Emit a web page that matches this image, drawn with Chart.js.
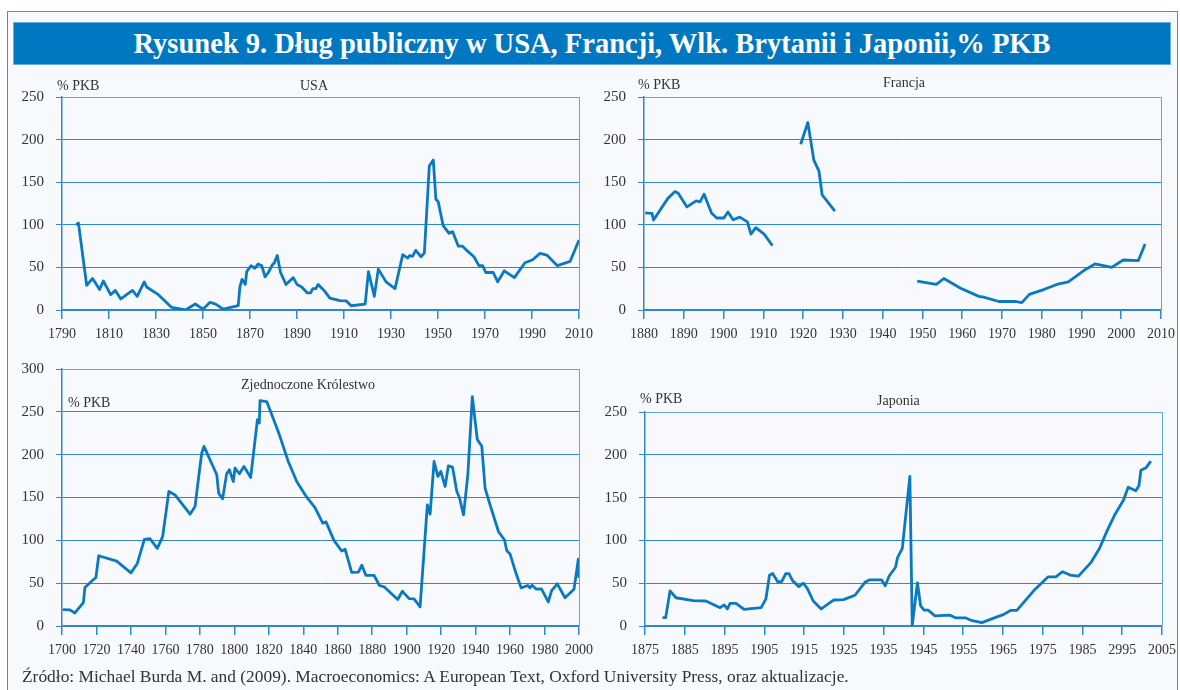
<!DOCTYPE html>
<html>
<head>
<meta charset="utf-8">
<script src="https://cdn.jsdelivr.net/npm/chart.js@4.4.1/dist/chart.umd.min.js"></script>
<style>
  body { margin: 0; width: 1180px; height: 690px; background: #fff; overflow: hidden; position: relative;
         font-family: "Liberation Serif", "Times New Roman", serif; color: #333; }
  #frame { position: absolute; left: 7px; top: 11px; width: 1171px; height: 700px; border: 1px solid #3f93d2;
           background: #f7f9fd; box-sizing: border-box; }
  #head { position: absolute; left: 13px; top: 22px; width: 1158px; height: 43px; background: #0077c1;
          border: 1px solid #6aaee0; box-sizing: border-box; color: #fff; font-weight: bold; font-size: 28.5px;
          text-align: center; line-height: 41px; }
  canvas { position: absolute; left: 0; top: 0; }
  .lbl { position: absolute; font-size: 14px; line-height: 14px; white-space: nowrap; }
  #src { position: absolute; left: 22px; top: 668px; font-size: 17.4px; line-height: 17px; white-space: nowrap; }
</style>
</head>
<body>
<div id="frame"></div>
<div id="head">Rysunek 9. Dług publiczny w USA, Francji, Wlk. Brytanii i Japonii,% PKB</div>

<canvas id="usa" width="1180" height="690"></canvas>
<canvas id="fra" width="1180" height="690"></canvas>
<canvas id="uk" width="1180" height="690"></canvas>
<canvas id="jap" width="1180" height="690"></canvas>

<div class="lbl" style="left:57px;top:79px">% PKB</div>
<div class="lbl" style="left:300px;top:79px">USA</div>
<div class="lbl" style="left:638px;top:78px">% PKB</div>
<div class="lbl" style="left:883px;top:76px">Francja</div>
<div class="lbl" style="left:241px;top:378px">Zjednoczone Królestwo</div>
<div class="lbl" style="left:68px;top:396px">% PKB</div>
<div class="lbl" style="left:640px;top:392px">% PKB</div>
<div class="lbl" style="left:877px;top:394px">Japonia</div>

<div id="src">Źródło: Michael Burda M. and (2009). Macroeconomics: A European Text, Oxford University Press, oraz aktualizacje.</div>

<script>
// ===== DATA =====

const USA_YEARS = [1796, 1797, 1800.5, 1803, 1806, 1807.6, 1810.7, 1812.7, 1815, 1820, 1822, 1825, 1826, 1831,
  1836.7, 1842.6, 1846.7, 1850, 1853, 1855.4, 1858.6, 1865, 1865.7, 1866.6, 1868, 1868.6, 1870.4, 1872, 1873.5,
  1875, 1876.4, 1877.8, 1879.5, 1880.3, 1881.6, 1883, 1885.3, 1888.4, 1890, 1892, 1894.4, 1895.8, 1896.7, 1898,
  1899, 1901.5, 1904, 1908.3, 1911, 1913, 1919, 1920.4, 1922.9, 1924.6, 1927.9, 1931.7, 1935, 1937.1, 1938,
  1939.2, 1940.5, 1942.8, 1944.2, 1946.3, 1947, 1948, 1949.1, 1950.1, 1952.2, 1954.7, 1956.2, 1958.6, 1960.3,
  1962.2, 1965.3, 1967.4, 1969, 1970.3, 1973.5, 1975.4, 1978.2, 1982.5, 1987, 1990.3, 1993.4, 1996.3, 2000.8,
  2006.2, 2010];
const USA_DEBT = [100, 102, 29, 37, 24, 34, 18, 23, 13, 23, 16, 33, 27, 18,
  3, 0, 7, 1, 9, 7, 1, 5, 27, 36, 30, 45, 52, 49, 54,
  52, 39, 44, 53, 55, 64, 44, 30, 38, 30, 27, 20, 20, 25, 25,
  30, 23, 14, 11, 10.6, 5, 7, 45, 16, 48, 33, 25, 65, 61, 64,
  63, 70, 62.5, 67, 169, 172, 176, 130, 127, 99, 90, 92, 75, 75,
  70, 62.5, 52, 52, 44, 44, 33, 46, 38, 55.5, 59, 66.5, 64.5, 52,
  57, 82];

const FRA_YEARS = [1880.3, 1882, 1882.4, 1886, 1887.8, 1888.6, 1890.8, 1893.1, 1894.1, 1895.1, 1897, 1898.3,
  1900.1, 1901.1, 1902.4, 1904.1, 1906, 1906.9, 1908.1, 1910.2, 1912.3, 1916,
  1919.4, 1921.2, 1922.7, 1924, 1924.8, 1928, 1938,
  1948.7, 1953.5, 1955.4, 1959.6, 1964.2, 1965.4, 1969.2, 1973.3, 1975, 1976.9, 1980.5, 1983.8, 1986.7,
  1990.5, 1993.4, 1997.6, 2000.5, 2004.3, 2006];
const FRA_DEBT = [114, 113.5, 105.6, 131, 139, 137, 121, 128, 127, 136, 113.5, 108,
  108, 115, 106, 109, 103.5, 89, 96.6, 89, 75.5, null,
  194.5, 220, 176, 163, 135, 116, null,
  34, 30, 37, 25.5, 16, 15, 10, 10, 8.6, 18.4, 24, 30, 33,
  46, 54, 50, 58.7, 58, 77.5];

const UK_YEARS = [1700.4, 1704.6, 1707.5, 1712.4, 1713.3, 1716.2, 1719.7, 1721.3, 1731.7, 1740, 1743.7, 1747.8,
  1751, 1755.3, 1758.4, 1762, 1765.6, 1774.3, 1777.2, 1779.7, 1781.1, 1782.4, 1789.8, 1790.9, 1793.2, 1795.5,
  1797.1, 1799.4, 1800.4, 1802.9, 1805.6, 1809.5, 1813.4, 1814.5, 1814.9, 1818.8, 1826.1, 1831.3, 1836.2, 1842,
  1846.8, 1851.3, 1853.2, 1857.8, 1862.3, 1864.3, 1868.1, 1872, 1874, 1876.4, 1881.1, 1884.2, 1886.9, 1894.8,
  1897.5, 1901.4, 1904.3, 1907.8, 1912, 1913.6, 1915.9, 1918.1, 1919.8, 1922.3, 1924.2, 1926.6, 1929.1, 1930.6,
  1933, 1935.5, 1938.1, 1941, 1943.6, 1945.5, 1948.4, 1953.3, 1956.8, 1958.1, 1960, 1963.3, 1966.4, 1970.3,
  1971.5, 1972.8, 1975.3, 1978.2, 1982.2, 1984.1, 1987.4, 1991.9, 1997.1, 1999.6, 2000];
const UK_DEBT = [19.2, 18.8, 15.2, 27.4, 45, 50.4, 56.7, 82, 75.8, 62, 73, 101,
  102, 90.7, 104.3, 157, 153, 130.5, 139.4, 180.4, 202, 209.7, 176.6, 155, 148.4, 177.3,
  182.4, 168.7, 184.4, 177.7, 186.3, 173.4, 241, 237, 263, 262, 223.4, 192, 168.7, 150.4,
  138.2, 120, 121.5, 100, 87.5, 89.5, 62.5, 63, 71, 59, 59, 47.3, 45.7, 30.9,
  40.6, 32, 31.6, 22.3, 141.4, 130.5, 192, 174.6, 180.4, 162.9, 187, 185.5, 157, 150,
  129.7, 176.6, 267.6, 217.6, 209.8, 161, 141.4, 110, 100.4, 87.9, 84, 62.5, 44.5, 47.3,
  44.5, 47.6, 43, 43.4, 28.1, 41.3, 49.2, 33, 42.8, 78, 56];

const JAP_YEARS = [1879.4, 1880.2, 1881.3, 1882.8, 1887.1, 1890.3, 1893.9, 1894.9, 1895.7, 1896.4, 1897.9, 1899.9,
  1904.2, 1905.4, 1906.3, 1907.1, 1908.4, 1909.4, 1910.4, 1911.2, 1912.1, 1913.7, 1914.8, 1915.8, 1917.3, 1919.3,
  1922.5, 1924.9, 1927.8, 1930.3, 1931.4, 1934.5, 1935.4, 1936.4, 1938, 1938.5, 1939.7, 1941.6, 1942.2, 1943.5,
  1944.3, 1945.2, 1946.2, 1947.9, 1951.7, 1953.2, 1955.7, 1957, 1959.7, 1963, 1965.1, 1967, 1968.5, 1973.1,
  1976.4, 1978.3, 1980, 1981.9, 1984, 1987.1, 1989.3, 1991.1, 1993.2, 1995.3, 1996.5, 1998.4, 1999.2, 1999.7,
  2001, 2002.2];
const JAP_DEBT = [9.8, 9.8, 41, 33, 29.6, 29.2, 21.4, 24.6, 19.9, 26.5, 26.5, 19.5,
  21.4, 31.6, 59.3, 61.3, 51.5, 52, 61.3, 61.3, 53, 46, 50, 44, 29.2, 19.9,
  30.4, 30.8, 35.9, 51, 53.8, 53.8, 47, 58.4, 68.6, 80, 90.8, 174.7, 0.8, 50.5,
  23.6, 18.5, 18.5, 11.9, 12.6, 9.4, 9.4, 6.7, 4, 9.8, 13.3, 18.3, 18.3, 43,
  57.5, 57.5, 63.4, 59.5, 58.3, 74, 90.8, 110.3, 130.6, 147, 162.2, 158, 163.8, 182,
  185, 192.6];

// tick values and labels
const USA_TICKS = [1790, 1810, 1830, 1850, 1870, 1890, 1910, 1930, 1950, 1970, 1990, 2010];
const FRA_TICKS = [1880, 1890, 1900, 1910, 1920, 1930, 1940, 1950, 1960, 1970, 1980, 1990, 2000, 2010];
const UK_TICKS = [1700, 1720, 1740, 1760, 1780, 1800, 1820, 1840, 1860, 1880, 1900, 1920, 1940, 1960, 1980, 2000];
const JAP_TICKS = [1875, 1885, 1895, 1905, 1915, 1925, 1935, 1945, 1955, 1965, 1975, 1985, 1995, 2005];
const JAP_LABELS = ['1875', '1885', '1895', '1905', '1915', '1925', '1935', '1945', '1955', '1965', '1975', '1985', '2995', '2005'];
const Y_TICKS_250 = [0, 50, 100, 150, 200, 250];
const Y_TICKS_300 = [0, 50, 100, 150, 200, 250, 300];

// ===== CHARTS =====

const LINE = '#0b79c1';
const GRID = '#2f88cb';
const TEXT = '#333';
const YW = 60;   // y axis box width
const XH = 40;   // x axis box height

// right/top edge of the plot box
const frameBox = {
  id: 'frameBox',
  beforeDatasetsDraw(chart) {
    const { ctx, chartArea: a } = chart;
    ctx.save();
    ctx.strokeStyle = '#5fa6dc';
    ctx.lineWidth = 1;
    ctx.beginPath();
    ctx.moveTo(a.left, a.top + 0.5);
    ctx.lineTo(a.right + 0.5, a.top + 0.5);
    ctx.lineTo(a.right + 0.5, a.bottom);
    ctx.stroke();
    ctx.restore();
  }
};

function drawPanel(id, years, values, area, xTicks, xLabels, yTicks, yPad) {
  const [left, top, right, bottom] = area;
  new Chart(document.getElementById(id), {
    type: 'line',
    data: {
      datasets: [{
        data: years.map((x, i) => ({ x, y: values[i] })),
        borderColor: LINE,
        borderWidth: 2.8,
        pointRadius: 0,
        tension: 0,
        spanGaps: false,
        borderJoinStyle: 'round'
      }]
    },
    options: {
      responsive: false,
      animation: false,
      events: [],
      layout: { padding: { left: left - YW, top: top, right: 1180 - right, bottom: 690 - bottom - XH } },
      plugins: { legend: { display: false }, tooltip: { enabled: false } },
      scales: {
        x: {
          type: 'linear',
          min: xTicks[0],
          max: xTicks[xTicks.length - 1],
          afterBuildTicks: s => { s.ticks = xTicks.map(v => ({ value: v })); },
          afterFit: s => { s.height = XH; s.paddingLeft = 0; s.paddingRight = 0; },
          grid: { drawOnChartArea: false, drawTicks: true, tickLength: 9, color: GRID, lineWidth: 1.5 },
          border: { display: true, color: GRID, width: 1.5 },
          ticks: {
            autoSkip: false, maxRotation: 0, padding: 7, color: TEXT,
            font: { family: 'Liberation Serif', size: 14 },
            callback: (v, i) => xLabels[i]
          }
        },
        y: {
          min: 0,
          max: yTicks[yTicks.length - 1],
          afterBuildTicks: s => { s.ticks = yTicks.map(v => ({ value: v })); },
          afterFit: s => { s.width = YW; s.paddingTop = 0; s.paddingBottom = 0; },
          grid: { drawTicks: true, tickLength: 6, color: GRID, lineWidth: 1 },
          border: { display: true, color: GRID, width: 1.5 },
          ticks: {
            padding: yPad, color: TEXT,
            font: { family: 'Liberation Serif', size: 15 },
            callback: v => String(v)
          }
        }
      }
    },
    plugins: [frameBox]
  });
}

drawPanel('usa', USA_YEARS, USA_DEBT, [62, 97, 579, 310], USA_TICKS, USA_TICKS.map(String), Y_TICKS_250, 12);
drawPanel('fra', FRA_YEARS, FRA_DEBT, [644, 97, 1161, 310], FRA_TICKS, FRA_TICKS.map(String), Y_TICKS_250, 12);
drawPanel('uk', UK_YEARS, UK_DEBT, [62, 369, 579, 626], UK_TICKS, UK_TICKS.map(String), Y_TICKS_300, 12);
drawPanel('jap', JAP_YEARS, JAP_DEBT, [645, 412, 1162, 626], JAP_TICKS, JAP_LABELS, Y_TICKS_250, 12);
</script>
</body>
</html>
